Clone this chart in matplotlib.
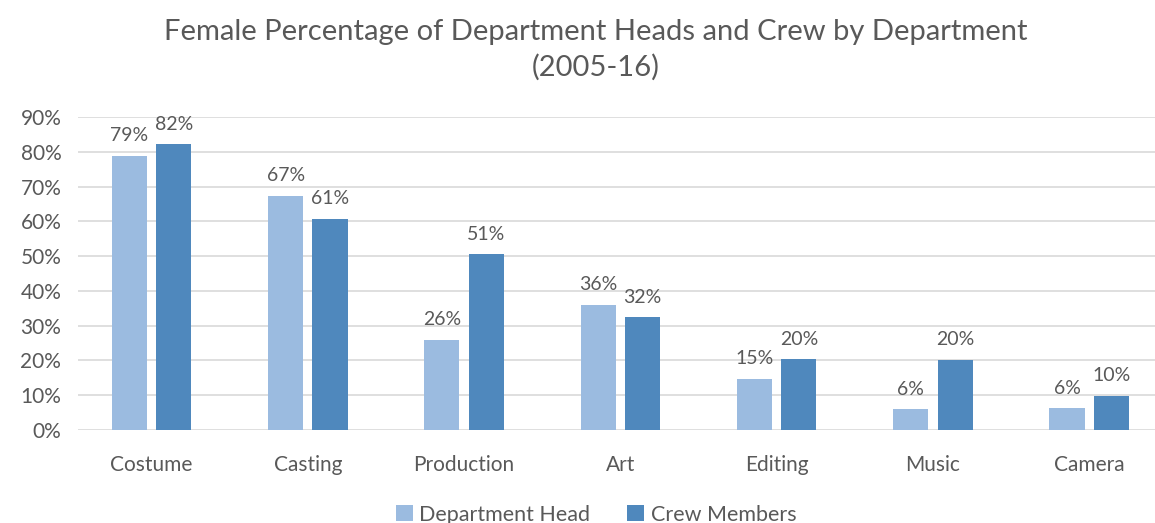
import numpy as np
import matplotlib.pyplot as plt
from matplotlib.ticker import PercentFormatter

departments = ['Costume', 'Casting', 'Production', 'Art', 'Editing', 'Music', 'Camera']
dept_head = [78.8, 67.3, 26.0, 36.0, 14.7, 6.0, 6.2]
crew = [82.1, 60.8, 50.6, 32.4, 20.4, 20.2, 9.8]

LIGHT = '#9BBBE0'
DARK = '#4F88BD'
TEXT = '#595959'

plt.rcParams['font.family'] = ['Lato', 'DejaVu Sans']

fig = plt.figure(figsize=(11.55, 5.23), dpi=100)
ax = fig.add_axes([78 / 1155, 1 - 430 / 523, 1077 / 1155, 313 / 523])

x = np.arange(len(departments))
w = 0.225
off = 0.142
b1 = ax.bar(x - off, dept_head, w, color=LIGHT, label='Department Head', zorder=3)
b2 = ax.bar(x + off, crew, w, color=DARK, label='Crew Members', zorder=3)

for bars, vals in ((b1, dept_head), (b2, crew)):
    for rect, v in zip(bars, vals):
        ax.text(rect.get_x() + rect.get_width() / 2, v + 3.3, f'{v:.0f}%',
                ha='center', va='bottom', fontsize=14, color=TEXT)

ax.set_ylim(0, 90)
ax.set_yticks(np.arange(0, 91, 10))
ax.yaxis.set_major_formatter(PercentFormatter(decimals=0))
ax.set_xlim(-0.47, -0.47 + 1077 / 156.3)
ax.set_xticks(x)
ax.set_xticklabels(departments)
ax.grid(axis='y', color='#D9D9D9', linewidth=1.2, zorder=0)
for s in ax.spines.values():
    s.set_visible(False)
ax.tick_params(axis='both', length=0, labelsize=15, colors=TEXT, pad=12)
ax.tick_params(axis='x', pad=18)

fig.text(0.516, 0.905, 'Female Percentage of Department Heads and Crew by Department\n(2005-16)',
         ha='center', va='center', fontsize=21, color=TEXT, linespacing=1.4)

fig.legend(loc='lower center', bbox_to_anchor=(0.516, -0.04), ncol=2, frameon=False,
           fontsize=15.5, labelcolor=TEXT, handlelength=0.8, handleheight=0.8,
           handletextpad=0.3, columnspacing=1.7)

fig.savefig('out.png', dpi=100)
